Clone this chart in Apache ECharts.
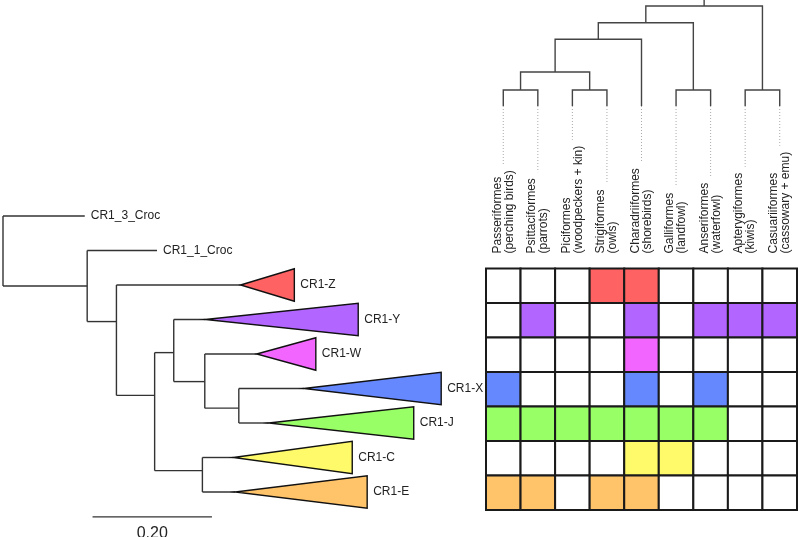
<!DOCTYPE html>
<html>
<head>
<meta charset="utf-8">
<script src="https://cdn.jsdelivr.net/npm/echarts@6/dist/echarts.min.js"></script>
<style>html,body{margin:0;padding:0;background:#fff}#chart{width:800px;height:537px}</style>
</head>
<body>
<div id="chart"></div>
<script>
// ---- Tree data (branch lengths in substitutions/site, rows in leaf-order units) ----
const nodeNames   = ['root','CR1_3_Croc','n1','CR1_1_Croc','n2','CR1-Z','n3','n4','CR1-Y','n5','CR1-W','n6','CR1-X','CR1-J','n7','CR1-C','CR1-E'];
const nodeParent  = [-1, 0, 0, 2, 2, 4, 4, 6, 7, 7, 9, 9, 11, 11, 6, 14, 14];
const branchLength= [0, 0.137, 0.141, 0.117, 0.049, 0.208, 0.064, 0.032, 0.053, 0.052, 0.087, 0.057, 0.109, 0.050, 0.080, 0.052, 0.055];
const nodeRow     = [null, 0, 2.03, 1, 3.06, 2, 5.2, 3.96, 3, 4.8, 4, 5.57, 5, 6, 7.38, 7, 8];
const cladeDepth  = [0, 0, 0, 0, 0, 0.090, 0, 0, 0.256, 0, 0.099, 0, 0.230, 0.243, 0, 0.199, 0.221];
const scaleBarLength = 0.20;

// ---- Heatmap data ----
const cladeNames  = ['CR1-Z','CR1-Y','CR1-W','CR1-X','CR1-J','CR1-C','CR1-E'];
const cladeColors = ['#FF6262','#B266FF','#F266FF','#6688FF','#99FF66','#FFFA6A','#FFC36A'];
const orderNames  = ['Passeriformes\n(perching birds)','Psittaciformes\n(parrots)','Piciformes\n(woodpeckers + kin)','Strigiformes\n(owls)','Charadriiformes\n(shorebirds)','Galliformes\n(landfowl)','Anseriformes\n(waterfowl)','Apterygiformes\n(kiwis)','Casuariiformes\n(cassowary + emu)'];
const presenceZ = [0,0,0,1,1,0,0,0,0];
const presenceY = [0,1,0,0,1,0,1,1,1];
const presenceW = [0,0,0,0,1,0,0,0,0];
const presenceX = [1,0,0,0,1,0,1,0,0];
const presenceJ = [1,1,1,1,1,1,1,0,0];
const presenceC = [0,0,0,0,1,1,0,0,0];
const presenceE = [1,1,0,1,1,0,0,0,0];
const presence = [presenceZ, presenceY, presenceW, presenceX, presenceJ, presenceC, presenceE];

// ---- Bird order dendrogram (leaves 0-8, merged nodes 9..16) ----
const dendroLeft   = [0, 2, 5, 7, 9, 13, 14, 15];
const dendroRight  = [1, 3, 6, 8, 10, 4, 11, 12];
const dendroHeight = [16, 16, 16, 16, 34, 66.7, 83.3, 100];
const dendroTop = 106;

// ---- layout / style constants ----
const FONT_FAMILY = '"Liberation Sans", Arial, sans-serif';
const TEXT_COLOR = '#222';
const LINE_COLOR = '#333';
const HEAT_TOP = 268.5, LABEL_MARGIN = 15;
const TRI_HALF = 0.47;

const measureCtx = document.createElement('canvas').getContext('2d');
measureCtx.font = '12px ' + FONT_FAMILY;
function textW(s){ return Math.max.apply(null, s.split('\n').map(l => measureCtx.measureText(l).width)); }

function renderTree(params, api) {
  const n = nodeNames.length;
  const xs = [], kids = [];
  for (let i = 0; i < n; i++) { kids.push([]); }
  for (let i = 0; i < n; i++) {
    xs[i] = nodeParent[i] < 0 ? 0 : xs[nodeParent[i]] + branchLength[i];
    if (nodeParent[i] >= 0) kids[nodeParent[i]].push(i);
  }
  const els = [];
  const lineStyle = { stroke: LINE_COLOR, lineWidth: 1.4, fill: null };
  for (let i = 0; i < n; i++) {
    const p = nodeParent[i];
    if (p >= 0) {
      els.push({ type: 'polyline', shape: { points: [api.coord([xs[p], nodeRow[i]]), api.coord([xs[i], nodeRow[i]])] }, style: lineStyle });
    }
    if (kids[i].length) {
      const rows = kids[i].map(k => nodeRow[k]);
      els.push({ type: 'polyline', shape: { points: [api.coord([xs[i], Math.min.apply(null, rows)]), api.coord([xs[i], Math.max.apply(null, rows)])] }, style: lineStyle });
    }
  }
  for (let i = 0; i < n; i++) {
    if (kids[i].length) continue;
    let endX = xs[i];
    if (cladeDepth[i] > 0) {
      const ci = cladeNames.indexOf(nodeNames[i]);
      endX = xs[i] + cladeDepth[i];
      els.push({ type: 'polygon', shape: { points: [api.coord([xs[i], nodeRow[i]]), api.coord([endX, nodeRow[i] - TRI_HALF]), api.coord([endX, nodeRow[i] + TRI_HALF])] },
        style: { fill: cladeColors[ci], stroke: '#111', lineWidth: 1.4, lineJoin: 'miter' } });
    }
    const lp = api.coord([endX, nodeRow[i]]);
    els.push({ type: 'text', x: lp[0] + 6, y: lp[1], style: { text: nodeNames[i], fill: TEXT_COLOR, font: '12px ' + FONT_FAMILY, align: 'left', verticalAlign: 'middle', textAlign: 'left', textVerticalAlign: 'middle' } });
  }
  // scale bar
  const sbRow = 8.72;
  const s0 = api.coord([0.15, sbRow]), s1 = api.coord([0.15 + scaleBarLength, sbRow]);
  els.push({ type: 'polyline', shape: { points: [s0, s1] }, style: { stroke: LINE_COLOR, lineWidth: 1.4, fill: null } });
  const sl = api.coord([0.15 + scaleBarLength / 2, 9.2]);
  els.push({ type: 'text', x: sl[0], y: sl[1], style: { text: scaleBarLength.toFixed(2), fill: TEXT_COLOR, font: '16px ' + FONT_FAMILY, align: 'center', verticalAlign: 'middle', textAlign: 'center', textVerticalAlign: 'middle' } });
  return { type: 'group', children: els };
}

function renderDendro(params, api) {
  const nx = [], nh = [];
  for (let i = 0; i < orderNames.length; i++) { nx.push(i); nh.push(0); }
  const els = [];
  const st = { stroke: '#444', lineWidth: 1.4, fill: null };
  for (let k = 0; k < dendroLeft.length; k++) {
    const l = dendroLeft[k], r = dendroRight[k], h = dendroHeight[k];
    els.push({ type: 'polyline', shape: { points: [api.coord([nx[l], nh[l]]), api.coord([nx[l], h]), api.coord([nx[r], h]), api.coord([nx[r], nh[r]])] }, style: st });
    nx.push((nx[l] + nx[r]) / 2); nh.push(h);
  }
  const root = nx.length - 1;
  els.push({ type: 'polyline', shape: { points: [api.coord([nx[root], nh[root]]), api.coord([nx[root], dendroTop])] }, style: st });
  const labelY = HEAT_TOP - LABEL_MARGIN;
  for (let i = 0; i < orderNames.length; i++) {
    const p = api.coord([i, 0]);
    const endY = labelY - textW(orderNames[i]) - 6;
    els.push({ type: 'polyline', shape: { points: [p, [p[0], endY]] }, style: { stroke: '#aaa', lineWidth: 1, lineDash: [1, 2], fill: null } });
    els.push({ type: 'text', x: p[0], y: labelY, rotation: Math.PI / 2,
      style: { text: orderNames[i], fill: TEXT_COLOR, font: '12px ' + FONT_FAMILY, lineHeight: 12,
        align: 'left', verticalAlign: 'middle', textAlign: 'left', textVerticalAlign: 'middle' } });
  }
  return { type: 'group', children: els };
}

const heatData = [];
presence.forEach((row, r) => row.forEach((v, c) => heatData.push([c, r, v])));

function renderCell(params, api) {
  const c = api.coord([api.value(0), api.value(1)]);
  const s = api.size([1, 1]);
  const filled = api.value(2) > 0;
  return { type: 'rect', shape: { x: c[0] - s[0] / 2, y: c[1] - s[1] / 2, width: s[0], height: s[1] },
    style: { fill: filled ? cladeColors[api.value(1)] : '#fff', stroke: '#1a1a1a', lineWidth: 2 } };
}

const chart = echarts.init(document.getElementById('chart'), null, { renderer: 'canvas' });
chart.setOption({
  animation: false,
  backgroundColor: '#fff',
  grid: [
    { left: 3, top: 198.75, width: 597, height: 310.5, outerBoundsMode: 'none' },
    { left: 486, top: HEAT_TOP, width: 311, height: 241.5, outerBoundsMode: 'none' },
    { left: 486, top: 0, width: 311, height: 106, outerBoundsMode: 'none' }
  ],
  xAxis: [
    { gridIndex: 0, type: 'value', min: 0, max: 1, show: false },
    { gridIndex: 1, type: 'category', data: orderNames, show: false },
    { gridIndex: 2, type: 'value', min: -0.5, max: 8.5, show: false }
  ],
  yAxis: [
    { gridIndex: 0, type: 'value', min: -0.5, max: 8.5, inverse: true, show: false },
    { gridIndex: 1, type: 'category', data: cladeNames, inverse: true, show: false },
    { gridIndex: 2, type: 'value', min: 0, max: dendroTop, show: false }
  ],
  series: [
    { type: 'custom', xAxisIndex: 0, yAxisIndex: 0, renderItem: renderTree, data: [[0, 0]], silent: true },
    { type: 'custom', xAxisIndex: 1, yAxisIndex: 1, renderItem: renderCell, data: heatData, silent: true },
    { type: 'custom', xAxisIndex: 2, yAxisIndex: 2, renderItem: renderDendro, data: [[0, 0]], silent: true }
  ]
});
</script>
</body>
</html>
